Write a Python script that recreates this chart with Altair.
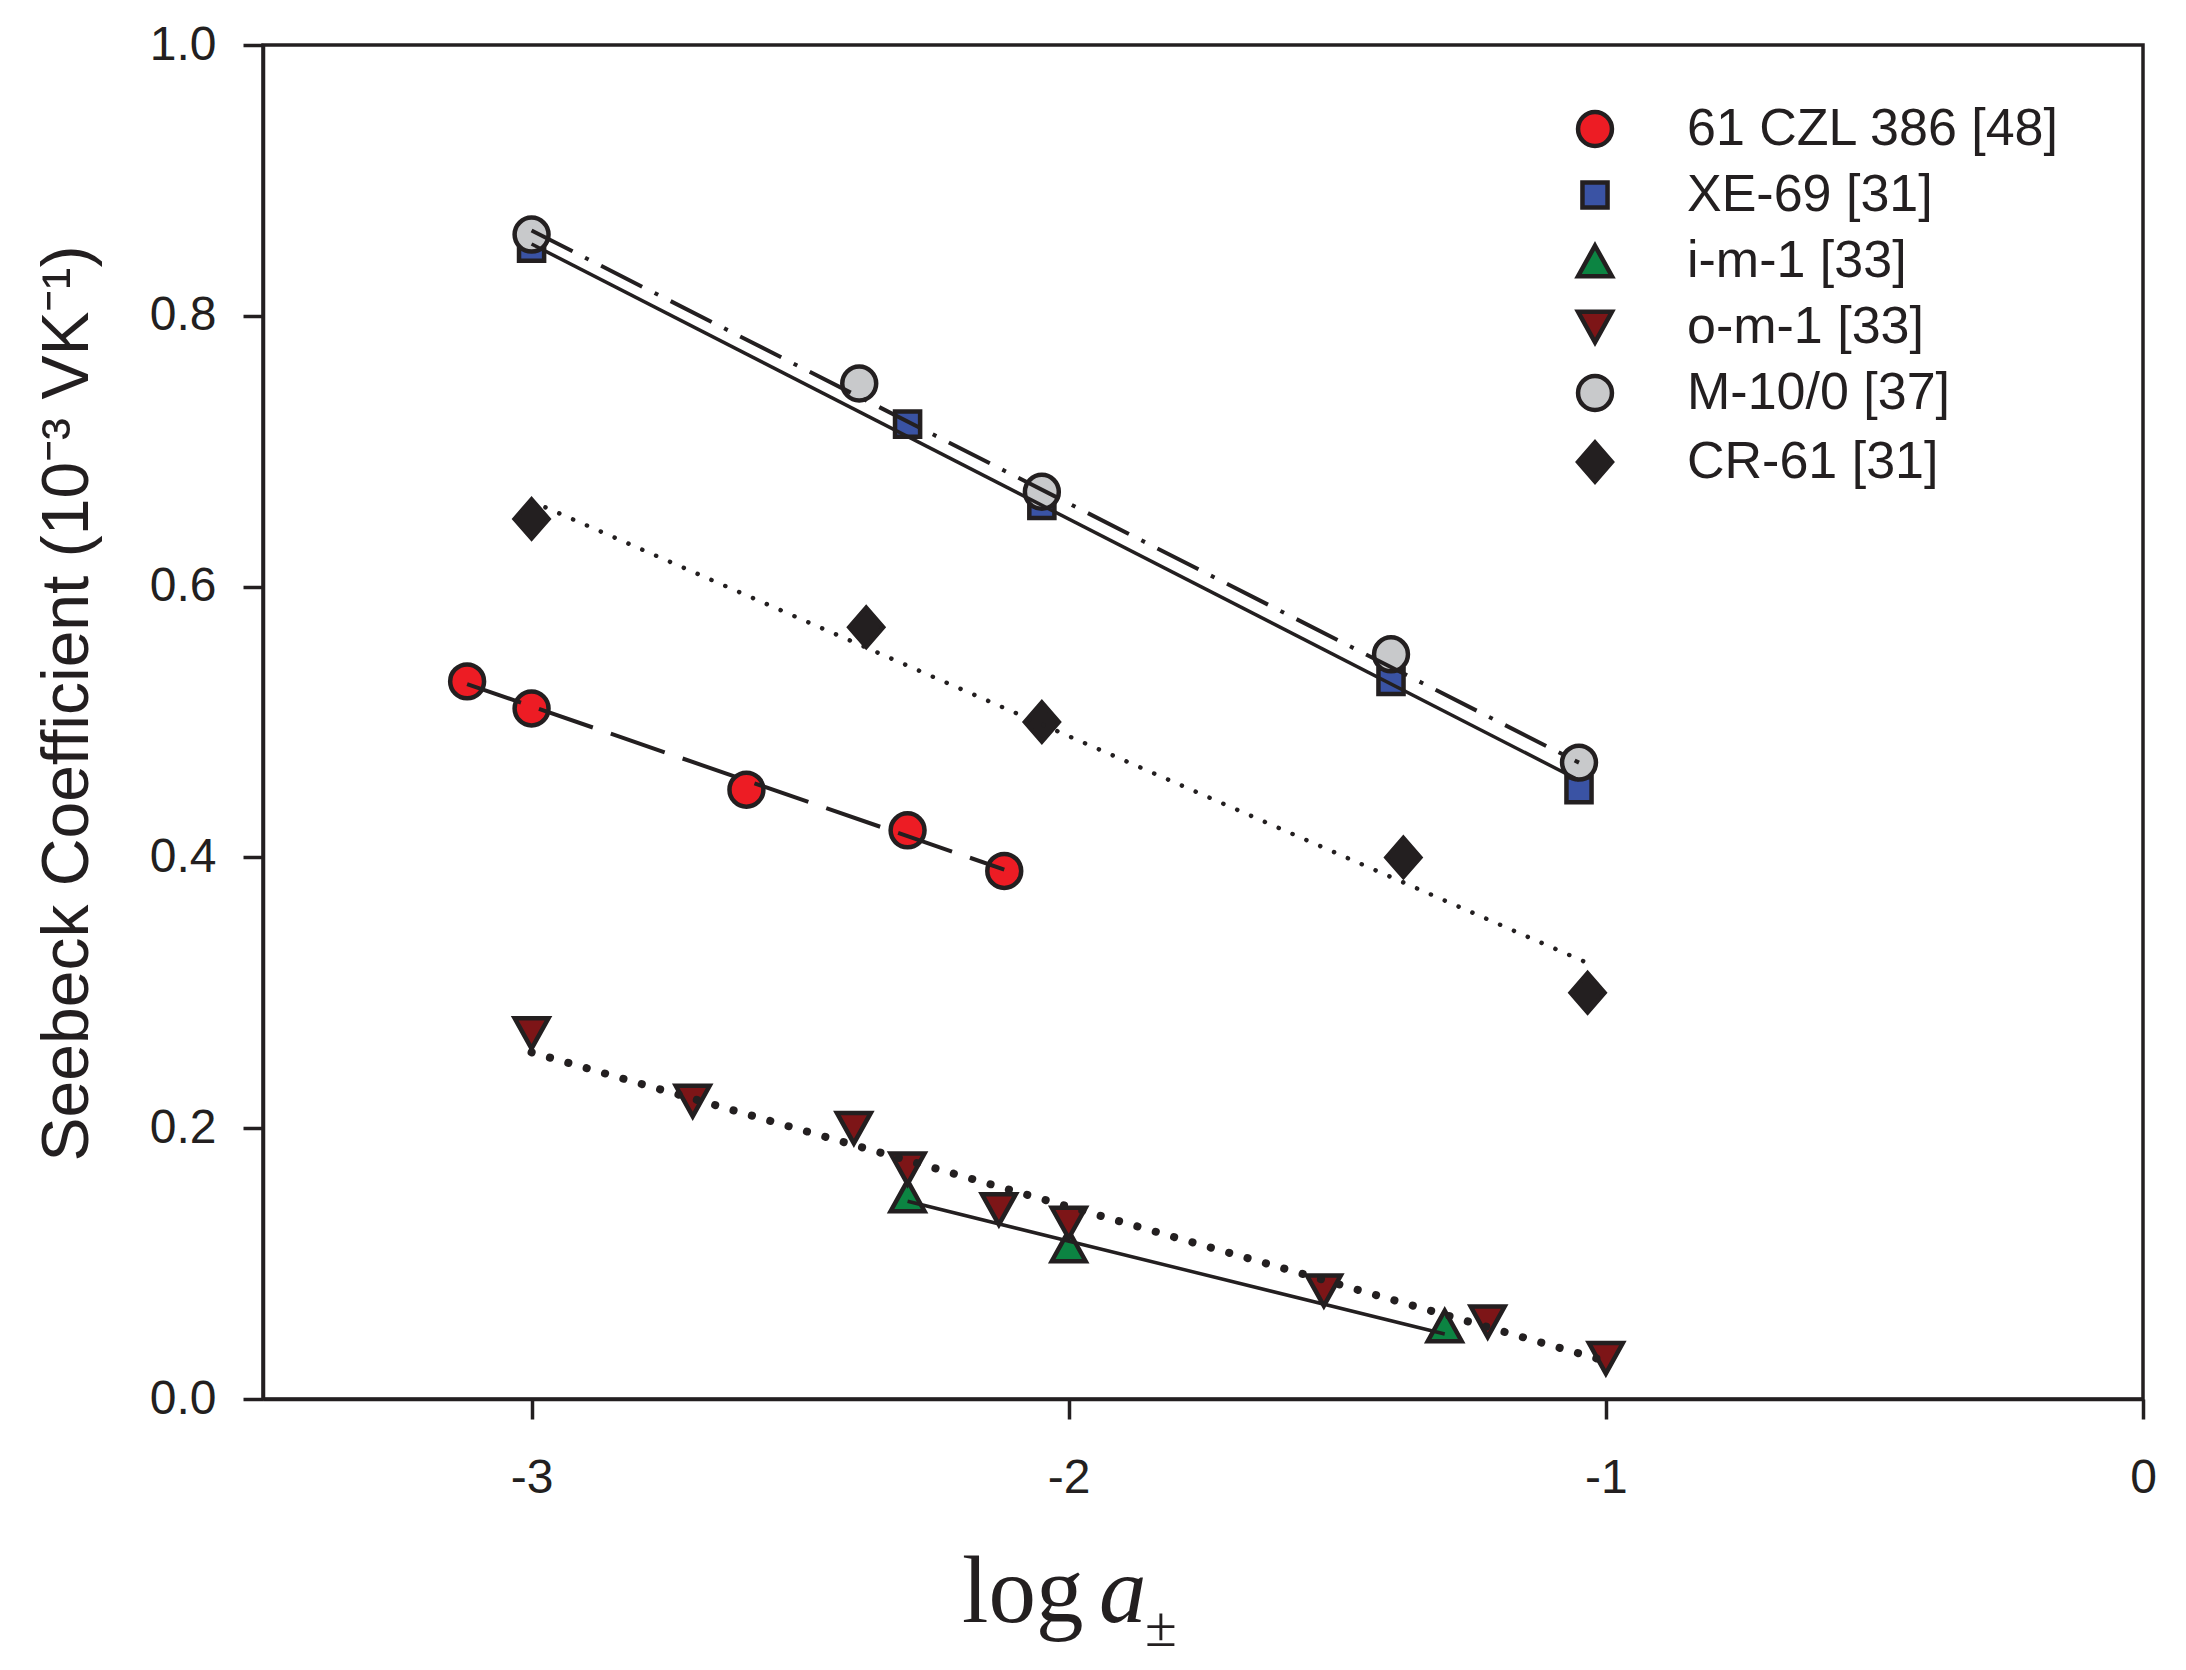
import altair as alt
import pandas as pd

# ---------------- data ----------------
SERIES = ["61 CZL 386 [48]", "XE-69 [31]", "i-m-1 [33]", "o-m-1 [33]", "M-10/0 [37]", "CR-61 [31]"]
FILLS = ["#ED1C24", "#3A53A4", "#0C8442", "#7D1517", "#C8C9CB", "#231F20"]

czl_x = [-3.12, -3.0, -2.6, -2.3, -2.12]
czl_y = [0.53, 0.51, 0.45, 0.42, 0.39]
xe_x = [-3.0, -2.3, -2.05, -1.4, -1.05]
xe_y = [0.85, 0.72, 0.66, 0.53, 0.45]
im_x = [-2.3, -2.0, -1.3]
im_y = [0.15, 0.113, 0.054]
om_x = [-3.0, -2.7, -2.4, -2.3, -2.13, -2.0, -1.525, -1.22, -1.0]
om_y = [0.27, 0.22, 0.20, 0.17, 0.14, 0.13, 0.08, 0.057, 0.03]
m10_x = [-3.0, -2.39, -2.05, -1.4, -1.05]
m10_y = [0.86, 0.75, 0.67, 0.55, 0.47]
cr_x = [-3.0, -2.377, -2.05, -1.377, -1.034]
cr_y = [0.65, 0.57, 0.50, 0.40, 0.30]

# fitted lines (end points)
czl_fit_x = [-3.12, -2.12]
czl_fit_y = [0.528, 0.391]
xe_fit_x = [-3.0, -1.05]
xe_fit_y = [0.853, 0.457]
im_fit_x = [-2.3, -1.3]
im_fit_y = [0.146, 0.048]
om_fit_x = [-3.0, -1.0]
om_fit_y = [0.256, 0.028]
m10_fit_x = [-3.0, -1.05]
m10_fit_y = [0.863, 0.470]
cr_fit_x = [-3.0, -1.034]
cr_fit_y = [0.663, 0.322]

X_TICKS = [-3, -2, -1, 0]
Y_TICKS = [0.0, 0.2, 0.4, 0.6, 0.8, 1.0]
Y_TITLE = "Seebeck Coefficient (10\u207b\u00b3 VK\u207b\u00b9)"
X_TITLE_PARTS = ["log", "a", "\u00b1"]

# ---------------- styles ----------------
INK = "#231F20"
SHAPES = [
    "circle",
    "M-0.74,-0.74L0.74,-0.74L0.74,0.74L-0.74,0.74Z",
    "M0,-0.9L1,0.9L-1,0.9Z",
    "M-1,-0.9L1,-0.9L0,0.9Z",
    "circle",
    "M0,-1.15L1,0L0,1.15L-1,0Z",
]
LINE_STYLE = {
    SERIES[0]: dict(strokeDash=[57, 19], strokeWidth=4),
    SERIES[1]: dict(strokeWidth=3.5),
    SERIES[2]: dict(strokeWidth=3.5),
    SERIES[3]: dict(strokeDash=[0.1, 19], strokeWidth=8, strokeCap="round"),
    SERIES[4]: dict(strokeDash=[46, 14, 4, 14], strokeWidth=4),
    SERIES[5]: dict(strokeDash=[0.1, 15], strokeWidth=4.5, strokeCap="round"),
}

pt_sets = [(czl_x, czl_y), (xe_x, xe_y), (im_x, im_y), (om_x, om_y), (m10_x, m10_y), (cr_x, cr_y)]
fit_sets = [(czl_fit_x, czl_fit_y), (xe_fit_x, xe_fit_y), (im_fit_x, im_fit_y),
            (om_fit_x, om_fit_y), (m10_fit_x, m10_fit_y), (cr_fit_x, cr_fit_y)]

rows = []
for s, (xs, ys) in zip(SERIES, pt_sets):
    for x, y in zip(xs, ys):
        rows.append({"series": s, "x": x, "y": y})
pts = pd.DataFrame(rows)

lrows = []
for s, (xs, ys) in zip(SERIES, fit_sets):
    for i, (x, y) in enumerate(zip(xs, ys)):
        lrows.append({"series": s, "x": x, "y": y, "i": i})
fits = pd.DataFrame(lrows)

W, H = 1880, 1354
MSIZE = 1150

xscale = alt.Scale(domain=[-3.5, 0], nice=False, zero=False)
yscale = alt.Scale(domain=[0, 1], nice=False, zero=False)

xaxis = alt.Axis(values=X_TICKS, title=None, labelPadding=35, labelFlush=False,
                 labelExpr="datum.value < 0 ? '-' + abs(datum.value) : '' + datum.value")
yaxis = alt.Axis(values=Y_TICKS, format=".1f", title=Y_TITLE, labelPadding=27, labelFlush=False,
                 titleFont="Liberation Sans", titleFontSize=66, titleFontWeight="normal",
                 titleColor=INK, titleAngle=-90, titleX=-196, titleY=658,
                 titleAlign="center", titleBaseline="middle")

legend = alt.Legend(orient="none", legendX=1306, legendY=58, title=None,
                    labelFont="Liberation Sans", labelFontSize=52, labelColor=INK,
                    labelOffset=66, rowPadding=14, symbolSize=MSIZE,
                    symbolStrokeWidth=4.5, symbolStrokeColor=INK, padding=0,
                    labelLimit=0)

points = alt.Chart(pts).mark_point(filled=True, size=MSIZE, stroke=INK, strokeWidth=4.5,
                                   opacity=1, strokeOpacity=1, fillOpacity=1).encode(
    x=alt.X("x:Q", scale=xscale, axis=xaxis),
    y=alt.Y("y:Q", scale=yscale, axis=yaxis),
    color=alt.Color("series:N", scale=alt.Scale(domain=SERIES, range=FILLS), legend=legend),
    shape=alt.Shape("series:N", scale=alt.Scale(domain=SERIES, range=SHAPES), legend=legend),
)

line_layers = []
for s in SERIES:
    line_layers.append(
        alt.Chart(fits).transform_filter(alt.datum.series == s)
        .mark_line(color=INK, **LINE_STYLE[s])
        .encode(x=alt.X("x:Q", scale=xscale), y=alt.Y("y:Q", scale=yscale), order="i:Q")
    )

t_log = alt.Chart(pd.DataFrame({"t": [X_TITLE_PARTS[0]]})).mark_text(
    font="Liberation Serif", fontSize=95, color=INK, align="left", baseline="alphabetic"
).encode(text="t:N", x=alt.value(699), y=alt.value(1577))
t_a = alt.Chart(pd.DataFrame({"t": [X_TITLE_PARTS[1]]})).mark_text(
    font="Liberation Serif", fontSize=95, fontStyle="italic", color=INK, align="left",
    baseline="alphabetic"
).encode(text="t:N", x=alt.value(836), y=alt.value(1577))
t_pm = alt.Chart(pd.DataFrame({"t": [X_TITLE_PARTS[2]]})).mark_text(
    font="Liberation Serif", fontSize=58, color=INK, align="left", baseline="alphabetic"
).encode(text="t:N", x=alt.value(882), y=alt.value(1601))

chart = alt.layer(points, *line_layers, t_log, t_a, t_pm).properties(
    width=W, height=H,
    padding={"left": 255, "top": 37, "right": 35, "bottom": 263},
    autosize=alt.AutoSizeParams(type="none"),
    background="white",
).configure_view(stroke=INK, strokeWidth=3.5).configure_axis(
    grid=False, domainColor=INK, domainWidth=3.5, tickColor=INK, tickWidth=3.5,
    tickSize=20, labelFont="Liberation Sans", labelFontSize=48, labelColor=INK,
)

chart.save("out.html", embed_options={"renderer": "svg", "actions": False})
